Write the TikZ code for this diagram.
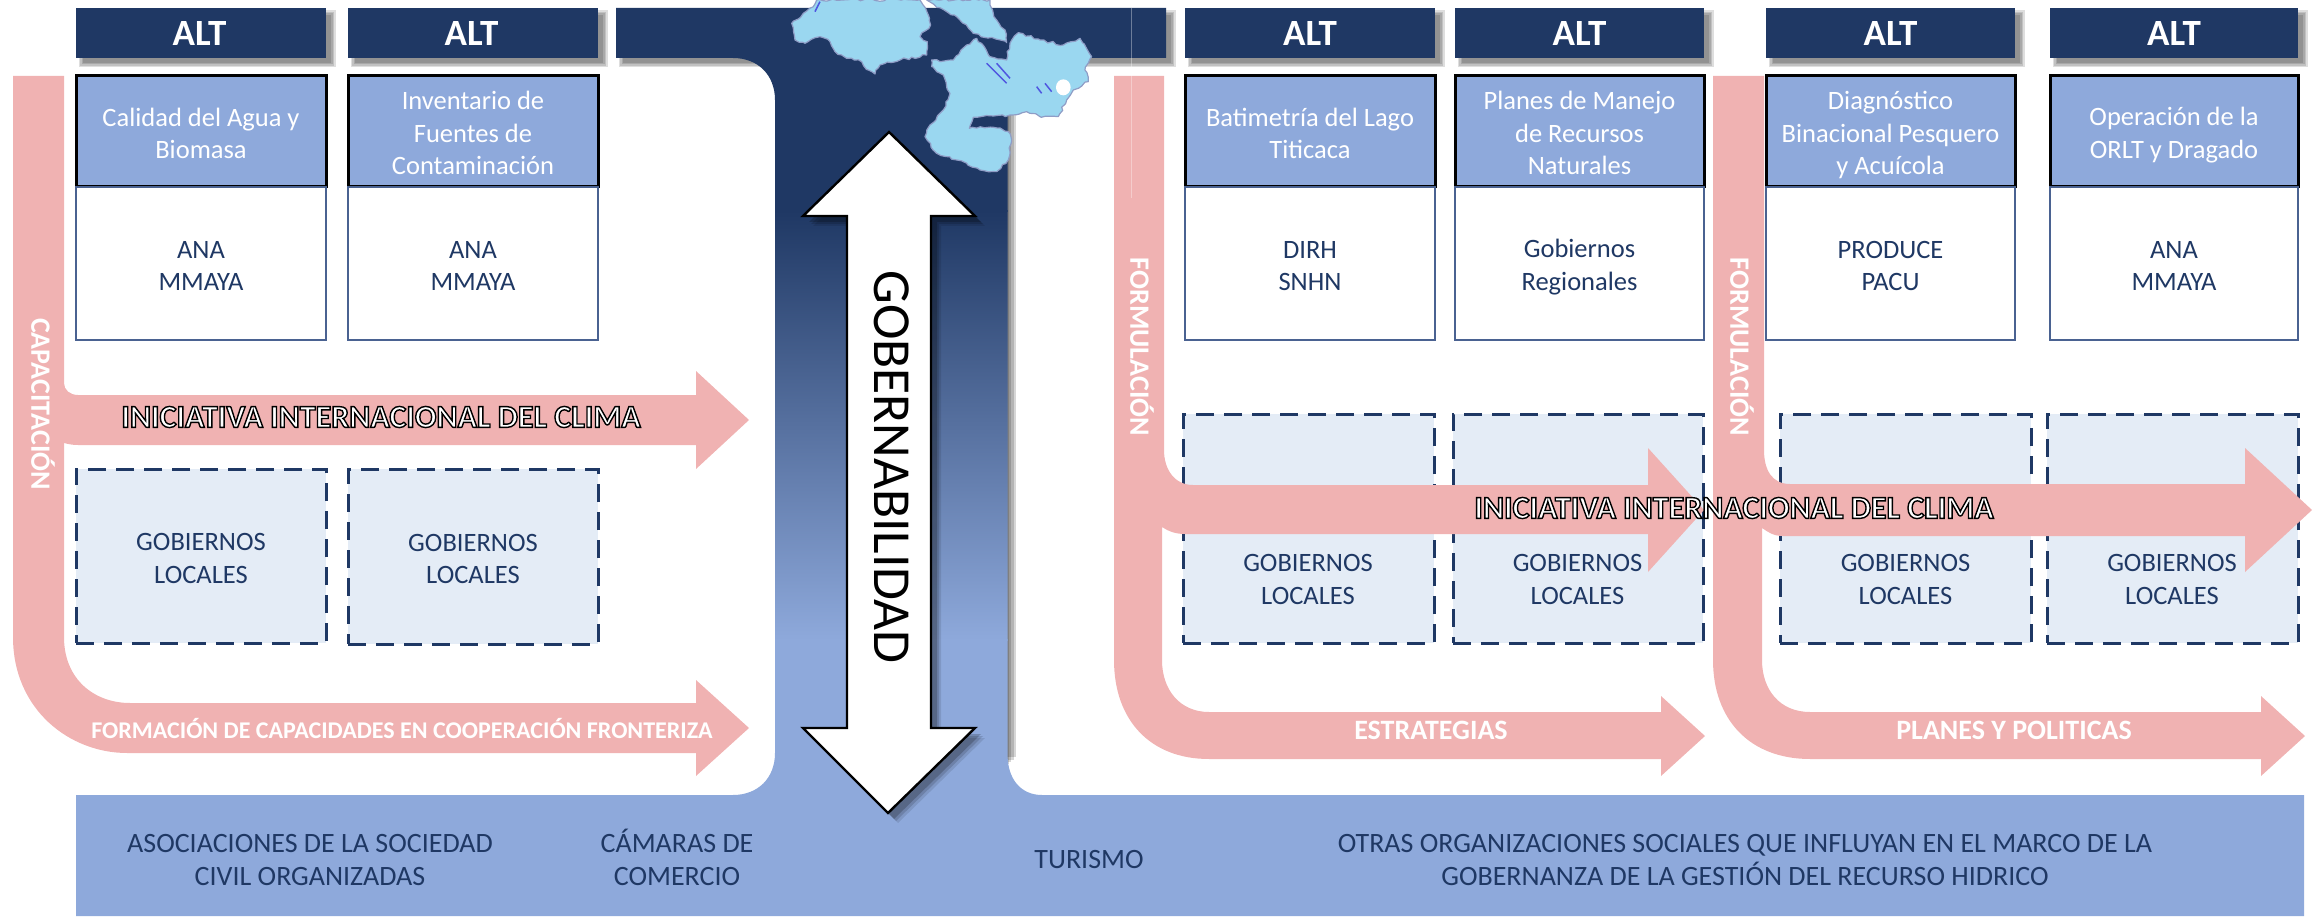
\documentclass[tikz,border=0pt]{standalone}
\usepackage{fontspec}
\setmainfont{Carlito}
\usetikzlibrary{calc,decorations.pathmorphing}
\definecolor{navy}{HTML}{1F3864}
\definecolor{midblue}{HTML}{8EA9DB}
\definecolor{pinkb}{HTML}{F0B2B2}
\definecolor{palefill}{HTML}{E4ECF6}
\definecolor{boxedge}{HTML}{4A6291}
\definecolor{lakeblue}{HTML}{9AD7F0}
\definecolor{lakeedge}{HTML}{8F9DC6}
\newcommand\fsz[1]{\fontsize{#1}{32.5}\selectfont}
\newcommand\rl[1]{\rule{0pt}{25.5pt}#1\rule[-3.5pt]{0pt}{3.5pt}}
\tikzset{
  altbox/.style={fill=navy,text=white,font=\fsz{37}\bfseries,inner sep=0pt,outer sep=0pt},
  headbox/.style={fill=midblue,draw=black,line width=3pt,text=white,font=\fsz{26.5},align=center,inner sep=0pt,outer sep=0pt},
  whitebox/.style={fill=white,draw=boxedge,line width=2.6pt,text=navy,font=\fsz{26.5},align=center,inner sep=0pt,outer sep=0pt},
  localbox/.style={fill=palefill,draw=navy,line width=3pt,dash pattern=on 18pt off 10pt,text=navy,font=\fsz{26.5},align=center,inner sep=0pt,outer sep=0pt},
  plain/.style={text=navy,font=\fsz{26.5},align=center,inner sep=0pt},
  lowtext/.style={text=navy,font=\fsz{28},align=center,inner sep=0pt},
  bandtext/.style={text=white,font=\fsz{28}\bfseries,inner sep=0pt},
  pinkshape/.style={fill=pinkb,draw=none},
  lake/.style={fill=lakeblue,draw=lakeedge,line width=1.2pt,line join=round,decorate,decoration={random steps,segment length=4pt,amplitude=1.3pt}},
}
\newcommand\bx[7]{%
  \pgfmathsetmacro\bw{#4-#2}\pgfmathsetmacro\bh{#5-#3}%
  \node[#6,minimum width=\bw pt,minimum height=\bh pt] (#1) at ({(#2+#4)/2},{(#3+#5)/2}) {\rl{#7}};}
\newcommand\softshadow[4]{%
  \foreach \g in {3.5,2,0.5,-1}{
    \fill[black,opacity=.13] ({#1+6-\g},{#2+6-\g}) rectangle ({#3+6+\g},{#4+6+\g});}}
\newcommand\outl[1]{\special{pdf:code 2 Tr 1.4 w 0 0 0 RG 1 1 1 rg}#1\special{pdf:code 0 Tr}}
\begin{document}
\begin{tikzpicture}[x=1pt,y=-1pt]
\pgfmathsetseed{7}
\useasboundingbox (0,0) rectangle (2313,917);
% shadows of the top bars
\foreach \a/\b in {76/326,348/598,616/1166,1185/1435,1455/1704,1766/2015,2050/2298}{
  \softshadow{\a}{8}{\b}{58}
}
% shadow of the stem's right edge
\foreach \g in {8,5.5,3,1}{
  \fill[black,opacity=.16] (1000,100) rectangle ({1008+\g},{765-\g});
}
% T band
\def\tband{(616,8) -- (1166,8) -- (1166,58) -- (1007.6,58) -- (1007.6,755)
  .. controls (1007.6,778) and (1020,795) .. (1042,795) -- (2304,795) -- (2304,916) -- (76,916) -- (76,795)
  -- (733,795) .. controls (758,795) and (775,778) .. (775,753) -- (775,100)
  .. controls (775,75) and (758,58) .. (733,58) -- (616,58) -- cycle}
\begin{scope}
  \clip \tband;
  \fill[navy] (0,0) rectangle (2313,212);
  \shade[top color=navy,bottom color=midblue] (0,211) rectangle (2313,640);
  \fill[midblue] (0,639) rectangle (2313,917);
\end{scope}
% ALT
\bx{alt1}{76}{8}{326}{58}{altbox}{\hspace*{-3pt}\raisebox{-1.5pt}{ALT}}
\bx{alt2}{348}{8}{598}{58}{altbox}{\hspace*{-3pt}\raisebox{-1.5pt}{ALT}}
\bx{alt3}{1185}{8}{1435}{58}{altbox}{\raisebox{-1.5pt}{ALT}}
\bx{alt4}{1455}{8}{1704}{58}{altbox}{\raisebox{-1.5pt}{ALT}}
\bx{alt5}{1766}{8}{2015}{58}{altbox}{\raisebox{-1.5pt}{ALT}}
\bx{alt6}{2050}{8}{2298}{58}{altbox}{\raisebox{-1.5pt}{ALT}}
% upper boxes
\bx{h1}{76}{76}{326}{187}{headbox}{Calidad del Agua y\\Biomasa}
\bx{h2}{348}{76}{598}{187}{headbox}{Inventario de\\Fuentes de\\Contaminación}
\bx{h3}{1185}{76}{1435}{187}{headbox}{Batimetría del Lago\\Titicaca}
\bx{h4}{1455}{76}{1704}{187}{headbox}{Planes de Manejo\\de Recursos\\Naturales}
\bx{h5}{1766}{76}{2015}{187}{headbox}{Diagnóstico\\Binacional Pesquero\\y Acuícola}
\bx{h6}{2050}{76}{2298}{187}{headbox}{Operación de la\\ORLT y Dragado}
\bx{w1}{76}{187}{326}{340}{whitebox}{ANA\\MMAYA}
\bx{w2}{348}{187}{598}{340}{whitebox}{ANA\\MMAYA}
\bx{w3}{1185}{187}{1435}{340}{whitebox}{DIRH\\SNHN}
\bx{w4}{1455}{187}{1704}{340}{whitebox}{Gobiernos\\Regionales}
\bx{w5}{1766}{187}{2015}{340}{whitebox}{PRODUCE\\PACU}
\bx{w6}{2050}{187}{2298}{340}{whitebox}{ANA\\MMAYA}
% dashed boxes
\bx{d1}{76}{469}{326}{643}{localbox}{GOBIERNOS\\LOCALES}
\bx{d2}{348}{469}{598}{644}{localbox}{GOBIERNOS\\LOCALES}
\bx{d3}{1183}{414}{1434}{643}{localbox}{}
\bx{d4}{1453}{414}{1703}{643}{localbox}{}
\bx{d5}{1780}{414}{2031}{643}{localbox}{}
\bx{d6}{2047}{414}{2298}{643}{localbox}{}
% pink arrows
\fill[pinkshape] (13,76) -- (64,76) -- (64,383) .. controls (64,390) and (70,395) .. (78,395)
  -- (696,395) -- (696,371) -- (749,420) -- (696,469) -- (696,445) -- (78,445) .. controls (72,445) and (68,444) .. (64,443)
  -- (64,637) .. controls (64,680) and (95,703) .. (130,703) -- (696,703) -- (696,680) -- (749,728) -- (696,776) -- (696,753)
  -- (127,753) .. controls (70,753) and (13,710) .. (13,637) -- cycle;
\fill[pinkshape] (1114,76) -- (1164,76) -- (1164,450) .. controls (1164,470) and (1175,485) .. (1193,485)
  -- (1648,485) -- (1648,448) -- (1704,510) -- (1648,572) -- (1648,534) -- (1185,534) .. controls (1175,534) and (1168,531) .. (1162,527)
  -- (1162,660) .. controls (1162,690) and (1180,712) .. (1209,712) -- (1661,712) -- (1661,696) -- (1705,736) -- (1661,776) -- (1661,759)
  -- (1209,759) .. controls (1150,759) and (1114,720) .. (1114,660) -- cycle;
\fill[pinkshape] (1713,76) -- (1764,76) -- (1764,450) .. controls (1764,470) and (1772,484) .. (1790,484)
  -- (2245,484) -- (2245,448) -- (2312,510) -- (2245,572) -- (2245,536) -- (1783,536) .. controls (1773,536) and (1768,532) .. (1762,528)
  -- (1762,660) .. controls (1762,690) and (1780,712) .. (1810,712) -- (2261,712) -- (2261,696) -- (2305,736) -- (2261,776) -- (2261,759)
  -- (1810,759) .. controls (1750,759) and (1713,720) .. (1713,660) -- cycle;
\draw[white,opacity=.35,line width=.8pt] (1131,8) -- (1131,198);
% text of the lower dashed boxes
\foreach \n/\x in {l3/1308,l4/1577.5,l5/1905.5,l6/2172}{
  \node[plain] (\n) at (\x,577) {\rl{GOBIERNOS\\LOCALES}};
}
% band labels
\node[bandtext,rotate=-90] (capac) at (43,404) {CAPACITACIÓN};
\node[bandtext,rotate=-90] (form1) at (1142,347) {FORMULACIÓN};
\node[bandtext,rotate=-90] (form2) at (1742,347) {FORMULACIÓN};
\node[bandtext,font=\fsz{24}\bfseries] (fcap) at (402,728) {FORMACIÓN DE CAPACIDADES EN COOPERACIÓN FRONTERIZA};
\node[bandtext] (estr) at (1431,730) {ESTRATEGIAS};
\node[bandtext] (plan) at (2014,730) {PLANES Y POLITICAS};
\node[font=\fsz{32}\bfseries,inner sep=0pt] (ini1) at (381,417) {\outl{INICIATIVA INTERNACIONAL DEL CLIMA}};
\node[font=\fsz{32}\bfseries,inner sep=0pt] (ini2) at (1734,508) {\outl{INICIATIVA INTERNACIONAL DEL CLIMA}};
% lake
\begin{scope}[shift={(780,0)},x=.3333pt,y=-.3333pt]
\fill[lake] (110,0) -- (100,20) -- (70,40) -- (35,70) -- (45,120) -- (75,130) -- (120,110) -- (150,125) -- (165,155) -- (200,175) -- (245,185) -- (265,210) -- (285,222) -- (300,195) -- (360,180) -- (440,165) -- (442,125) -- (420,110) -- (452,75) -- (445,45) -- (420,0) -- cycle;
\fill[lake] (440,0) -- (470,22) -- (530,50) -- (580,100) -- (680,128) -- (675,90) -- (650,60) -- (630,15) -- (630,0) -- cycle;
\fill[lake] (455,180) -- (480,185) -- (520,180) -- (560,135) -- (590,115) -- (630,170) -- (680,180) -- (690,130) -- (715,98) -- (780,120) -- (850,135) -- (900,115) -- (935,170) -- (915,210) -- (925,245) -- (880,270) -- (860,300) -- (835,350) -- (780,350) -- (740,335) -- (690,345) -- (580,352) -- (568,385) -- (640,382) -- (685,395) -- (695,420) -- (685,480) -- (650,515) -- (600,510) -- (530,480) -- (470,460) -- (435,410) -- (450,375) -- (490,330) -- (510,280) -- (490,225) -- (455,200) -- cycle;
\fill[white] (850,262) ellipse [x radius=22,y radius=24];
\draw[blue!45!lakeedge,line width=1.5pt] (620,190) -- (680,250) (650,190) -- (690,235) (770,260) -- (785,280) (795,250) -- (815,275) (105,35) -- (120,5);
\end{scope}
% central arrow
\def\garrow{(889,132) -- (975,216) -- (931,216) -- (931,728) -- (975,728) -- (888,813) -- (803,728) -- (847,728) -- (847,216) -- (803,216) -- cycle}
\foreach \g/\o in {10/.10,8/.14,6/.2}{
  \fill[black,opacity=\o,shift={(\g,\g)}] \garrow;
}
\draw[fill=white,draw=black,line width=2.4pt,line join=miter] \garrow;
\node[font=\fsz{53.5},text=black,inner sep=0pt,rotate=-90] (gob) at (892,467) {GOBERNABILIDAD};
% bottom row
\node[lowtext] (b1) at (310,858) {\rl{ASOCIACIONES DE LA SOCIEDAD\\CIVIL ORGANIZADAS}};
\node[lowtext] (b2) at (677,858) {\rl{CÁMARAS DE\\COMERCIO}};
\node[lowtext] (b3) at (1089,857) {\rl{TURISMO}};
\node[lowtext] (b4) at (1745,858) {\rl{OTRAS ORGANIZACIONES SOCIALES QUE INFLUYAN EN EL MARCO DE LA\\GOBERNANZA DE LA GESTIÓN DEL RECURSO HIDRICO}};
\end{tikzpicture}
\end{document}
